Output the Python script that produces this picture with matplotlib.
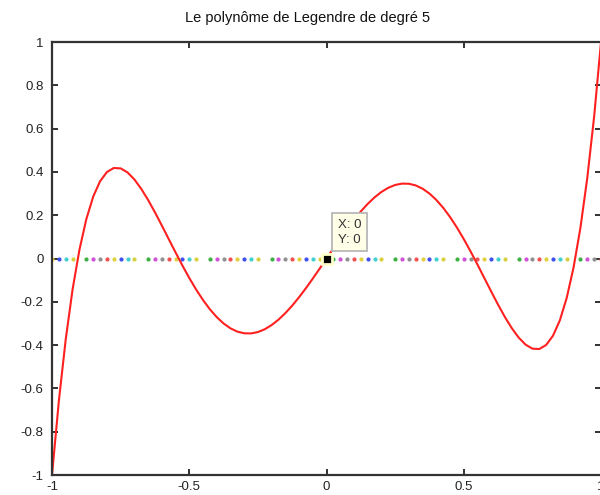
import matplotlib
matplotlib.use('Agg')
import matplotlib.pyplot as plt

plt.rcParams['font.family'] = ['Liberation Sans', 'DejaVu Sans']

# Valeurs (x de 0 a 1, la fonction est impaire)
x_pos = [0.0, 0.025, 0.05, 0.075, 0.1, 0.125, 0.15, 0.175, 0.2, 0.225,
         0.25, 0.275, 0.3, 0.325, 0.35, 0.375, 0.4, 0.425, 0.45, 0.475,
         0.5, 0.525, 0.55, 0.575, 0.6, 0.625, 0.65, 0.675, 0.7, 0.725,
         0.75, 0.775, 0.8, 0.825, 0.85, 0.875, 0.9, 0.925, 0.95, 0.975, 1.0]
y_pos = [0.0, 0.0467, 0.0927, 0.1370, 0.1788, 0.2175, 0.2523, 0.2825, 0.3075, 0.3267,
         0.3397, 0.3460, 0.3454, 0.3376, 0.3225, 0.3001, 0.2706, 0.2344, 0.1917, 0.1433,
         0.0898, 0.0323, -0.0282, -0.0903, -0.1526, -0.2133, -0.2705, -0.3219, -0.3652, -0.3977,
         -0.4164, -0.4181, -0.3995, -0.3567, -0.2857, -0.1820, -0.0411, 0.1420, 0.3727, 0.6567, 1.0]

x_courbe = [-v for v in x_pos[:0:-1]] + x_pos
y_courbe = [-v for v in y_pos[:0:-1]] + y_pos

# points de l'axe y=0 (pointilles colores)
x_zero = x_courbe
couleurs_points = ['#3cb043', '#d050d8', '#909090', '#f05050', '#e0d040',
                   '#4050f0', '#40d0d0', '#d8d040', '#ffffff']

xticks = [-1, -0.5, 0, 0.5, 1]
xlabels = ['-1', '-0.5', '0', '0.5', '1']
yticks = [-1, -0.8, -0.6, -0.4, -0.2, 0, 0.2, 0.4, 0.6, 0.8, 1]
ylabels = ['-1', '-0.8', '-0.6', '-0.4', '-0.2', '0', '0.2', '0.4', '0.6', '0.8', '1']

fig = plt.figure(figsize=(6, 4.95), dpi=100)
ax = fig.add_axes([0.0867, 0.0404, 0.915, 0.8747])

for i, xv in enumerate(x_zero):
    c = couleurs_points[(i + 4) % len(couleurs_points)]
    ax.plot([xv], [0], marker='o', markersize=2.0, color=c, linestyle='none')

ax.plot(x_courbe, y_courbe, color='#ff2020', linewidth=1.5)

# data tip
ax.plot([0], [0], marker='s', markersize=7, markerfacecolor='black',
        markeredgecolor='#ffffcc', markeredgewidth=2, zorder=5)
ax.annotate('X: 0\nY: 0', xy=(0, 0), xytext=(0.04, 0.06), textcoords='data',
            fontsize=9.5, color='#333333', ha='left', va='bottom', linespacing=1.3,
            bbox=dict(boxstyle='square,pad=0.45', facecolor='#ffffe8', edgecolor='#b8b8b8', linewidth=1.3))

ax.set_xlim(-1, 1)
ax.set_ylim(-1, 1)
ax.set_xticks(xticks)
ax.set_xticklabels(xlabels)
ax.set_yticks(yticks)
ax.set_yticklabels(ylabels)
ax.tick_params(direction='in', length=4, width=1.3, labelsize=9.5, colors='#222222',
               top=True, right=True)
ax.tick_params(axis='x', pad=4)
ax.tick_params(axis='y', pad=6)
for s in ax.spines.values():
    s.set_linewidth(1.6)
    s.set_color('#333333')

fig.text(308 / 600, 1 - 18 / 495, 'Le polynôme de Legendre de degré 5', fontsize=10.5,
         ha='center', va='center', color='#111111')

fig.savefig('out.png', dpi=100)
